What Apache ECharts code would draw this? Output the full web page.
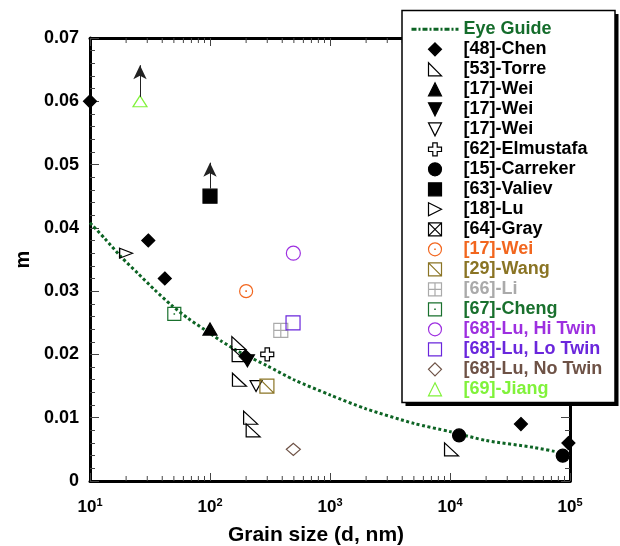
<!DOCTYPE html>
<html><head><meta charset="utf-8">
<script src="https://cdn.jsdelivr.net/npm/echarts@6/dist/echarts.min.js"></script>
<style>html,body{margin:0;padding:0;background:#fff}#c{width:620px;height:546px}</style>
</head><body><div id="c"></div>
<script>
const FONT = '"Liberation Sans", Arial, Helvetica, sans-serif';

// ---- data (grain size d in nm, m) ----
const chen = [[10,0.060],[30.6,0.038],[42,0.032],[198,0.0197],[39000,0.009],[97000,0.006]];
const torre = [[174,0.0218],[175,0.0199],[176,0.016],[218,0.0100],[229,0.0080],[10300,0.0050]];
const weiUp = [[100,0.024]];
const weiDown = [[205,0.019]];
const weiOpenDown = [[242,0.015]];
const elmustafa = [[300,0.020]];
const carreker = [[11900,0.0072],[87000,0.0040]];
const valiev = [[100,0.045]];
const lu18 = [[20,0.036]];
const gray = [];
const weiOrange = [[200,0.030]];
const wang = [[298,0.015]];
const li = [[389,0.0238]];
const cheng = [[50.4,0.0264]];
const luHi = [[495,0.036]];
const luLo = [[492,0.025]];
const luNo = [[495,0.005]];
const jiang = [[26.1,0.060]];
const eyeGuide = [[10,0.0408],[13.3,0.0383],[18.2,0.0354],[25.1,0.0328],[34.6,0.0302],[47.6,0.0278],[65.6,0.0257],[90.4,0.0239],[124.5,0.0221],[171,0.0205],[300,0.0182],[500,0.0160],[1000,0.0136],[2000,0.0114],[5000,0.0091],[10000,0.0078],[20000,0.0064],[50000,0.0053],[78000,0.0046]];
// lower-bound arrows: [d, from m, to m]
const arrowsValiev = [[100,0.0462,0.0503]];
const arrowsJiang = [[26.1,0.0607,0.0657]];
// axis ticks
const xMin = 10, xMax = 100000;
const yMin = 0, yMax = 0.07, yStep = 0.01;
const xMinorTicks = [];
for (let dec = 10; dec < xMax; dec *= 10) for (let k = 2; k <= 9; k++) xMinorTicks.push(k * dec);

// ---- symbols ----
const S = {
  diamond: 'path://M5,0L10,5L5,10L0,5Z',
  tup: 'path://M5,0L10,10L0,10Z',
  square: 'path://M0,0H10V10H0Z',
  rtri: 'path://M0,0L0,10L10,10Z',
  tdown: 'path://M0,0L10,0L5,10Z',
  tright: 'path://M0,0L10,5L0,10Z',
  cross: 'path://M3.3,0H6.7V3.3H10V6.7H6.7V10H3.3V6.7H0V3.3H3.3Z',
  xbox: 'path://M0,0H10V10H0Z M0,0L10,10 M10,0L0,10',
  dbox: 'path://M0,0H10V10H0Z M0,0L10,10',
  gbox: 'path://M0,0H10V10H0Z M5,0V10 M0,5H10',
  dotbox: 'path://M0,0H10V10H0Z M4.85,4.85H5.15V5.15H4.85Z',
  dotcirc: 'path://M0,5A5,5,0,1,1,10,5A5,5,0,1,1,0,5Z M4.85,4.85H5.15V5.15H4.85Z'
};
const NONE = 'rgba(0,0,0,0)';

// name, data, symbol, size, fill, stroke, textColor
const defs = [
  ['[48]-Chen', chen, S.diamond, 13, '#000', '#000', '#000'],
  ['[53]-Torre', torre, S.rtri, [14,13], NONE, '#000', '#000'],
  ['[17]-Wei', weiUp, S.tup, [14,12], '#000', '#000', '#000'],
  ['[17]-Wei ', weiDown, S.tdown, [14,12], '#000', '#000', '#000'],
  ['[17]-Wei  ', weiOpenDown, S.tdown, [12,11], NONE, '#000', '#000'],
  ['[62]-Elmustafa', elmustafa, S.cross, 13, NONE, '#000', '#000'],
  ['[15]-Carreker', carreker, 'circle', 13, '#000', '#000', '#000'],
  ['[63]-Valiev', valiev, S.square, 14, '#000', '#000', '#000'],
  ['[18]-Lu', lu18, S.tright, [13,10], NONE, '#000', '#000'],
  ['[64]-Gray', gray, S.xbox, 13, NONE, '#000', '#000'],
  ['[17]-Wei   ', weiOrange, S.dotcirc, 13, NONE, '#f2661e', '#f2661e'],
  ['[29]-Wang', wang, S.dbox, 14, NONE, '#8a7424', '#8a7424'],
  ['[66]-Li', li, S.gbox, 14, NONE, '#aaaaaa', '#aaaaaa'],
  ['[67]-Cheng', cheng, S.dotbox, 13, NONE, '#19702d', '#19702d'],
  ['[68]-Lu, Hi Twin', luHi, 'circle', 14, NONE, '#9d2fe0', '#9d2fe0'],
  ['[68]-Lu, Lo Twin', luLo, S.square, 14, NONE, '#6a26dc', '#6a26dc'],
  ['[68]-Lu, No Twin', luNo, S.diamond, [14,12], NONE, '#6e5246', '#6e5246'],
  ['[69]-Jiang', jiang, S.tup, [14,11], NONE, '#80f23a', '#80f23a']
];

const series = [];
const legendData = [];
series.push({
  name: 'Eye Guide', type: 'line', data: eyeGuide, smooth: 0.25, symbol: 'none',
  itemStyle: { color: NONE, borderColor: NONE, borderWidth: 0 },
  lineStyle: { color: '#0d6424', width: 3, type: [3, 2.5] }, z: 1, silent: true
});
legendData.push({ name: 'Eye Guide', itemStyle: { color: NONE, borderColor: NONE, borderWidth: 0 },
  lineStyle: { color: '#0d6424', width: 3, type: [5, 2, 2, 2] }, textStyle: { color: '#146c2b' } });

const arrowMark = (arr) => ({
  silent: true, symbol: ['none', 'arrow'], symbolSize: [10, 14],
  lineStyle: { color: '#222', width: 1, type: 'solid' }, label: { show: false },
  data: arr.map(a => [{ coord: [a[0], a[1]] }, { coord: [a[0], a[2]] }])
});

defs.forEach(d => {
  const s = {
    name: d[0], type: 'scatter', data: d[1], symbol: d[2], symbolSize: d[3],
    itemStyle: { color: d[4], borderColor: d[5], borderWidth: 1.2, opacity: 1 },
    z: 3, silent: true
  };
  if (d[0] === '[63]-Valiev') s.markLine = arrowMark(arrowsValiev);
  if (d[0] === '[69]-Jiang') s.markLine = arrowMark(arrowsJiang);
  series.push(s);
  legendData.push({
    name: d[0], icon: d[2],
    itemStyle: { color: d[4], borderColor: d[5], borderWidth: 1.2 },
    textStyle: { color: d[6] }
  });
});

// minor ticks of the log axis (bottom and top)
series.push({
  name: 'xminor', type: 'custom', silent: true, clip: false, z: 1,
  data: xMinorTicks.map(v => [v]),
  encode: { x: 0 },
  renderItem: function (params, api) {
    const v = api.value(0);
    const b = api.coord([v, yMin]);
    const t = api.coord([v, yMax]);
    const st = { stroke: '#444', lineWidth: 1 };
    return { type: 'group', children: [
      { type: 'line', shape: { x1: b[0], y1: b[1], x2: b[0], y2: b[1] - 5 }, style: st },
      { type: 'line', shape: { x1: t[0], y1: t[1], x2: t[0], y2: t[1] + 5 }, style: st }
    ]};
  }
});

const axisLineStyle = { show: true, onZero: false, lineStyle: { color: '#000', width: 3 } };
const chart = echarts.init(document.getElementById('c'), null, { renderer: 'canvas' });
chart.setOption({
  animation: false,
  backgroundColor: '#fff',
  textStyle: { fontFamily: FONT },
  grid: { left: 90, right: 50, top: 38, bottom: 65, containLabel: false, outerBoundsMode: 'none' },
  xAxis: [{
    type: 'log', logBase: 10, min: xMin, max: xMax, position: 'bottom',
    axisLine: axisLineStyle,
    axisTick: { show: true, inside: true, length: 8, lineStyle: { color: '#444', width: 1 } },
    splitLine: { show: false },
    axisLabel: {
      margin: 16,
      formatter: v => '{b|10}{s|' + Math.round(Math.log10(v)) + '}',
      rich: {
        b: { fontFamily: FONT, fontWeight: 'bold', fontSize: 17, color: '#000', lineHeight: 20 },
        s: { fontFamily: FONT, fontWeight: 'bold', fontSize: 11, color: '#000', verticalAlign: 'top', lineHeight: 12 }
      }
    },
    name: 'Grain size (d, nm)', nameLocation: 'middle', nameGap: 44,
    nameTextStyle: { fontFamily: FONT, fontWeight: 'bold', fontSize: 21, color: '#000', padding: [0, 28, 0, 0] }
  }, {
    type: 'log', logBase: 10, min: xMin, max: xMax, position: 'top',
    axisLine: axisLineStyle,
    axisTick: { show: true, inside: true, length: 8, lineStyle: { color: '#444', width: 1 } },
    axisLabel: { show: false }, splitLine: { show: false }
  }],
  yAxis: [{
    type: 'value', min: yMin, max: yMax, interval: yStep, position: 'left',
    axisLine: axisLineStyle,
    axisTick: { show: true, inside: true, length: 9, lineStyle: { color: '#444', width: 1 } },
    minorTick: { show: true, splitNumber: 5, length: 5, lineStyle: { color: '#444', width: 1 } },
    splitLine: { show: false },
    axisLabel: {
      margin: 11, fontFamily: FONT, fontWeight: 'bold', fontSize: 18, color: '#000',
      formatter: v => (Math.abs(v) < 1e-9 ? '0' : v.toFixed(2))
    },
    name: 'm', nameLocation: 'middle', nameGap: 54,
    nameTextStyle: { fontFamily: FONT, fontWeight: 'bold', fontSize: 20, color: '#000' }
  }, {
    type: 'value', min: yMin, max: yMax, interval: yStep, position: 'right',
    axisLine: axisLineStyle,
    axisTick: { show: true, inside: true, length: 9, lineStyle: { color: '#444', width: 1 } },
    minorTick: { show: true, splitNumber: 5, length: 5, lineStyle: { color: '#444', width: 1 } },
    splitLine: { show: false }, axisLabel: { show: false }
  }],
  legend: {
    orient: 'vertical', left: 410, top: 19.3, padding: 0, itemGap: 0,
    itemWidth: 47, itemHeight: 13, symbolKeepAspect: true, selectedMode: false,
    textStyle: { fontFamily: FONT, fontWeight: 'bold', fontSize: 18, lineHeight: 20 },
    data: legendData, z: 10
  },
  graphic: [
    { type: 'rect', z: 8, silent: true, shape: { x: 405.5, y: 14, width: 213, height: 392 }, style: { fill: '#000' } },
    { type: 'rect', z: 9, silent: true, shape: { x: 402, y: 10.5, width: 213, height: 392 }, style: { fill: '#fff', stroke: '#000', lineWidth: 1.5 } }
  ],
  series: series
});
</script></body></html>
